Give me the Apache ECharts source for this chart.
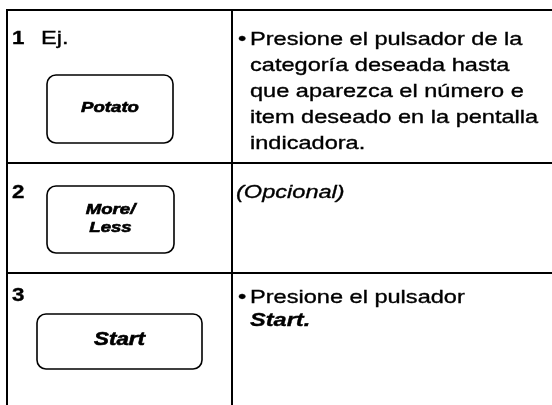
<!DOCTYPE html>
<html><head><meta charset="utf-8">
<script src="https://cdn.jsdelivr.net/npm/echarts@6/dist/echarts.min.js"></script>
<style>html,body{margin:0;padding:0;background:#fff}#c{width:552px;height:405px}</style>
</head><body><div id="c"></div>
<script>
// ---- content ----
const stepNumbers = ['1', '2', '3'];
const exampleLabel = 'Ej.';
const buttonLabels = ['Potato', 'More/\nLess', 'Start'];
const step1Lines = ['Presione el pulsador de la', 'categoría deseada hasta', 'que aparezca el número e', 'item deseado en la pentalla', 'indicadora.'];
const step2Lines = ['(Opcional)'];
const step3Lines = ['Presione el pulsador'];
const step3Button = 'Start.';

// ---- layout ----
const FONT = "'Liberation Sans', Arial, Helvetica, sans-serif";
const SX = 1.24;           // horizontal stretch of the scanned page
const BODY = 19;
const LEFT = 7, MID = 232, RIGHT = 552, TOP = 10, BOTTOM = 405;
const rowTops = [TOP, 163, 273];
const buttons = [
  {x: 47, y: 75, w: 126, h: 68, fs: 15, lh: 18},
  {x: 47, y: 186, w: 127, h: 67, fs: 15, lh: 18},
  {x: 37, y: 314, w: 165, h: 55, fs: 18, lh: 19}
];
const LH = 26;

const g = [];
const line = (x1, y1, x2, y2, w) => g.push({type: 'line', shape: {x1, y1, x2, y2}, style: {stroke: '#000', lineWidth: w || 2}});
const text = (x, y, s, opt) => g.push(Object.assign({
  type: 'text', x, y, scaleX: SX,
  style: Object.assign({text: s, fill: '#000', stroke: '#000', lineWidth: 0.35, font: `${BODY}px ${FONT}`, textAlign: 'left', textVerticalAlign: 'middle'}, opt || {})
}));

// grid
line(LEFT, TOP, RIGHT, TOP);
line(LEFT, TOP - 1, LEFT, BOTTOM);
line(MID, TOP, MID, BOTTOM);
line(LEFT, rowTops[1], RIGHT, rowTops[1]);
line(LEFT, rowTops[2], RIGHT, rowTops[2]);

// left column
const numY = [39, 193, 296];
stepNumbers.forEach((n, i) => text(12, numY[i], n, {font: `bold 18px ${FONT}`}));
text(41, numY[0], exampleLabel);
buttonLabels.forEach((lab, i) => {
  const b = buttons[i];
  g.push({type: 'rect', shape: {x: b.x, y: b.y, width: b.w, height: b.h, r: 9}, style: {fill: 'none', stroke: '#000', lineWidth: 1.6}});
  g.push({type: 'text', x: b.x + b.w / 2, y: b.y + b.h / 2 - 1, scaleX: SX,
    style: {text: lab, fill: '#000', stroke: '#000', lineWidth: 0.6, font: `italic bold ${b.fs}px ${FONT}`, textAlign: 'center', textVerticalAlign: 'middle', lineHeight: b.lh}});
});

// right column
const BX = 238, TX = 250;
text(BX, 40, '•');
step1Lines.forEach((s, k) => text(TX, 40 + k * LH, s));
step2Lines.forEach((s, k) => text(236, 193 + k * LH, s, {font: `italic ${BODY}px ${FONT}`}));
text(BX, 298, '•');
step3Lines.forEach((s, k) => text(TX, 298 + k * LH, s));
text(TX, 298 + step3Lines.length * 23, step3Button, {font: `italic bold ${BODY}px ${FONT}`});

const chart = echarts.init(document.getElementById('c'), null, {renderer: 'canvas'});
chart.setOption({animation: false, backgroundColor: '#fff', graphic: g});
</script></body></html>
